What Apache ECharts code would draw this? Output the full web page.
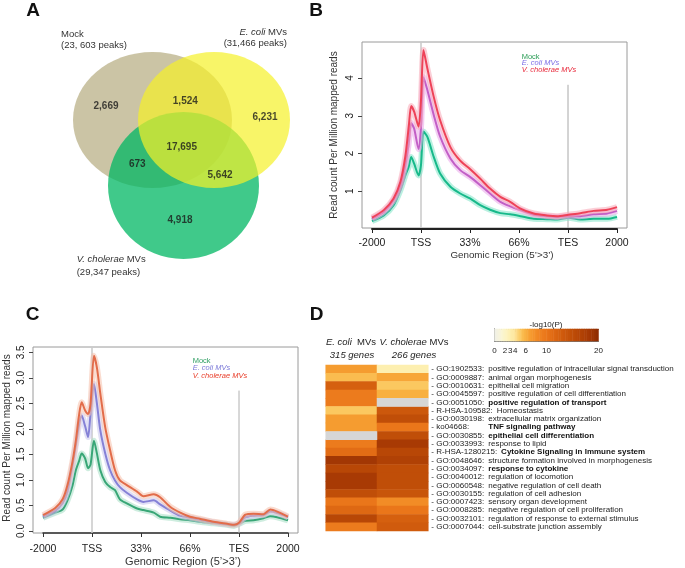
<!DOCTYPE html>
<html><head><meta charset="utf-8">
<script src="https://cdn.jsdelivr.net/npm/echarts@6/dist/echarts.min.js"></script>
<style>html,body{margin:0;padding:0;background:#fff}#c{width:685px;height:568px}</style>
</head><body><div id="c"></div>
<script>
// ---------- Panel A : Venn ----------
const vennOrder = ['Mock', 'V. cholerae MVs', 'E. coli MVs'];
const vennCx = [11.25, 14.35, 17.4];
const vennCy = [10.0, 16.55, 10.0];
const vennRx = [7.95, 7.55, 7.6];
const vennRy = [6.8, 7.35, 6.8];
const vennCounts = [2669, 1524, 6231, 17695, 673, 5642, 4918];
const vennCountX = [6.6, 14.53, 22.5, 14.17, 9.73, 18.0, 14.0];
const vennCountY = [8.67, 8.17, 9.73, 12.73, 14.43, 15.5, 20.07];

// ---------- Panel B ----------
const xTickLabels = ['-2000', 'TSS', '33%', '66%', 'TES', '2000'];
const bX = [0, .24, .44, .58, .68, .75, .80, .86, .95, 1.0, 1.05, 1.13, 1.26, 1.39, 1.6, 1.8, 2.0, 2.21, 2.41, 2.62, 2.82, 3.03, 3.3, 3.57, 3.78, 4.01, 4.25, 4.52, 4.8, 5.0];
const bVch = [0.30, 0.50, 0.81, 1.25, 1.92, 2.71, 3.26, 3.11, 2.71, 3.42, 4.74, 4.25, 3.5, 2.88, 2.17, 1.81, 1.59, 1.33, 1.07, 0.85, 0.72, 0.54, 0.41, 0.36, 0.34, 0.38, 0.42, 0.48, 0.51, 0.58];
const bEco = [0.27, 0.45, 0.76, 1.16, 1.69, 2.27, 2.81, 2.66, 2.12, 2.70, 4.02, 3.68, 3.02, 2.45, 1.87, 1.56, 1.38, 1.16, 0.94, 0.72, 0.60, 0.50, 0.38, 0.34, 0.32, 0.34, 0.34, 0.39, 0.41, 0.48];
const bMock = [0.21, 0.36, 0.63, 1.03, 1.42, 1.65, 1.91, 1.73, 1.42, 1.70, 2.58, 2.44, 1.91, 1.47, 1.12, 0.94, 0.81, 0.63, 0.51, 0.42, 0.39, 0.34, 0.27, 0.26, 0.25, 0.30, 0.25, 0.27, 0.27, 0.32];
const bYTicks = [1, 2, 3, 4];
const bBoxY = [0.026, 4.954];
const bTssSpan = [0.03, 4.95];
const bTesSpan = [0.03, 3.82];

// ---------- Panel C ----------
const cX = [0, .25, .4, .5, .6, .67, .74, .79, .86, .92, .97, 1.04, 1.1, 1.17, 1.27, 1.37, 1.47, 1.57, 1.71, 1.92, 2.05, 2.26, 2.39, 2.6, 2.8, 3.0, 3.2, 3.48, 3.76, 3.9, 4.0, 4.13, 4.3, 4.5, 4.64, 4.78, 5.0];
const cVch = [0.31, 0.45, 0.62, 0.9, 1.35, 1.77, 2.3, 2.52, 2.36, 2.29, 2.49, 3.43, 3.2, 2.69, 2.03, 1.58, 1.19, 0.99, 0.9, 0.77, 0.68, 0.72, 0.66, 0.47, 0.36, 0.28, 0.24, 0.18, 0.14, 0.12, 0.16, 0.32, 0.34, 0.33, 0.42, 0.38, 0.28];
const cEco = [0.28, 0.4, 0.55, 0.78, 1.27, 1.68, 2.1, 2.26, 2.05, 1.84, 2.3, 2.88, 2.5, 1.97, 1.52, 1.19, 0.99, 0.86, 0.75, 0.62, 0.57, 0.6, 0.52, 0.4, 0.3, 0.26, 0.22, 0.17, 0.13, 0.12, 0.15, 0.27, 0.3, 0.31, 0.38, 0.35, 0.27];
const cMock = [0.26, 0.36, 0.42, 0.6, 0.88, 1.19, 1.38, 1.52, 1.42, 1.23, 1.3, 1.77, 1.52, 1.19, 0.96, 0.86, 0.8, 0.62, 0.54, 0.44, 0.41, 0.36, 0.28, 0.26, 0.23, 0.21, 0.18, 0.15, 0.12, 0.1, 0.14, 0.2, 0.21, 0.25, 0.29, 0.27, 0.21];
const cYTicks = [0, 0.5, 1, 1.5, 2, 2.5, 3, 3.5];
const cBoxY = [-0.039, 3.604];
const cTssSpan = [-0.04, 3.59];
const cTesSpan = [-0.04, 2.75];

// ---------- Panel D ----------
const hmColumns = ['E. coli MVs', 'V. cholerae MVs'];
const termIds = ['GO:1902533', 'GO:0009887', 'GO:0010631', 'GO:0045597', 'GO:0051050', 'R-HSA-109582', 'GO:0030198', 'ko04668', 'GO:0030855', 'GO:0033993', 'R-HSA-1280215', 'GO:0048646', 'GO:0034097', 'GO:0040012', 'GO:0060548', 'GO:0030155', 'GO:0007423', 'GO:0008285', 'GO:0032101', 'GO:0007044'];
const termNames = ['positive regulation of intracellular signal transduction', 'animal organ morphogenesis', 'epithelial cell migration', 'positive regulation of cell differentiation', 'positive regulation of transport', 'Homeostasis', 'extracellular matrix organization', 'TNF signaling pathway', 'epithelial cell differentiation', 'response to lipid', 'Cytokine Signaling in Immune system', 'structure formation involved in morphogenesis', 'response to cytokine', 'regulation of locomotion', 'negative regulation of cell death', 'regulation of cell adhesion', 'sensory organ development', 'negative regulation of cell proliferation', 'regulation of response to external stimulus', 'cell-substrate junction assembly'];
const termBold = [0,0,0,0,1,0,0,1,1,0,1,0,1,0,0,0,0,0,0,0];
const ecoliVals = [7, 5.5, 12.5, 9.5, 9.5, 5, 7, 7, null, 9.5, 11, 18.5, 16, 18, 18, 15, 10, 11.5, 16, 9.5];
const vcholVals = [3, 6.5, 5, 6, null, 13.5, 15, 10, 15, 18, 16, 17, 15, 15, 15, 14, 8, 10, 12.5, 13];
const cbTicks = [0, 2, 3, 4, 6, 10, 20];
const cbInnerTicks = [2, 3, 4];

// ---------- styles ----------
const FONT = '"Liberation Sans", Arial, sans-serif';
const LBL = '"Liberation Sans Narrow", "Liberation Sans", sans-serif';
const LBLSIZE = 8;
const vennFill = ['rgb(203,196,165)', 'rgba(0,183,99,0.75)', 'rgba(245,241,40,0.7)'];
const heatColors = ['#efefe8','#f7f4dc','#fcf5c8','#fdefb0','#fde49a','#fbc860','#f8b040','#f59c30','#f28c26','#ee801f','#ea761a','#e26c15','#da6411','#d05b0d','#c8550a','#c04e08','#b84706','#b04105','#a83a04','#9c3403','#8c2c02'];

const chart = echarts.init(document.getElementById('c'), null, {renderer: 'canvas'});

const zip = (xs, ys) => xs.map((x, i) => [x, ys[i]]);
const hid = (gi, extra) => Object.assign({gridIndex: gi, show: false, type: 'value'}, extra || {});

const grids = [
  {left: 40, top: 20, width: 280, height: 260},                                  // 0 venn
  {left: 362, top: 42, width: 265, height: 186, show: true, borderColor: '#9a9a9a', borderWidth: 1}, // 1 B box
  {left: 372, top: 78, width: 245, height: 151},                                 // 2 B data
  {left: 33, top: 347, width: 265, height: 186, show: true, borderColor: '#9a9a9a', borderWidth: 1}, // 3 C box
  {left: 43, top: 352.3, width: 245, height: 178.7},                             // 4 C data
  {left: 325.7, top: 365, width: 102.6, height: 166},                            // 5 heatmap
  {left: 494.5, top: 329, width: 104, height: 12}                                 // 6 colorbar
];

const tickLbl = {color: '#222', fontFamily: FONT};

const xAxes = [
  hid(0, {min: 0, max: 28}),
  hid(1, {min: 0, max: 1}),
  {gridIndex: 2, type: 'value', min: 0, max: 5, interval: 1, position: 'bottom',
   axisLine: {show: true, onZero: false, lineStyle: {color: '#222', width: 2}},
   axisTick: {show: true, length: 4, lineStyle: {color: '#222'}},
   axisLabel: Object.assign({fontSize: 10.5, margin: 9, formatter: v => xTickLabels[v]}, tickLbl),
   splitLine: {show: false}},
  hid(3, {min: 0, max: 1}),
  {gridIndex: 4, type: 'value', min: 0, max: 5, interval: 1, position: 'bottom', offset: 2,
   axisLine: {show: true, onZero: false, lineStyle: {color: '#333', width: 1.5}},
   axisTick: {show: true, length: 4, lineStyle: {color: '#333'}},
   axisLabel: Object.assign({fontSize: 10.5, margin: 11, formatter: v => xTickLabels[v]}, tickLbl),
   splitLine: {show: false}},
  {gridIndex: 5, type: 'category', data: hmColumns, show: false},
  {gridIndex: 6, type: 'category', data: [], show: false},
  {gridIndex: 6, type: 'value', min: 0, max: 20, position: 'bottom',
   axisLine: {show: true, onZero: false, lineStyle: {color: '#777'}},
   axisTick: {show: false},
   axisLabel: Object.assign({fontSize: 8, margin: 6, customValues: cbTicks}, tickLbl),
   splitLine: {show: false}},
  {gridIndex: 6, type: 'value', min: 0, max: 20, position: 'top',
   axisLine: {show: true, onZero: false, lineStyle: {color: '#777'}},
   axisTick: {show: true, inside: true, length: 3, customValues: cbInnerTicks, lineStyle: {color: '#222'}},
   axisLabel: {show: false}, splitLine: {show: false}}
];

const cbN = 60;
const cbCats = [];
const cbData = [];
for (let i = 0; i < cbN; i++) { cbCats.push(String(i)); cbData.push([i, 0, (i + 0.5) * 20 / cbN]); }
xAxes[6].data = cbCats;

const yAxes = [
  hid(0, {min: 0, max: 26, inverse: true}),
  {gridIndex: 1, type: 'value', min: bBoxY[0], max: bBoxY[1],
   axisLine: {show: false}, splitLine: {show: false},
   axisTick: {show: true, length: 4, customValues: bYTicks, lineStyle: {color: '#444'}},
   axisLabel: Object.assign({fontSize: 10, rotate: 90, margin: 7, customValues: bYTicks}, tickLbl)},
  hid(2, {min: 0, max: 4}),
  {gridIndex: 3, type: 'value', min: cBoxY[0], max: cBoxY[1],
   axisLine: {show: false}, splitLine: {show: false},
   axisTick: {show: true, length: 4, customValues: cYTicks, lineStyle: {color: '#444'}},
   axisLabel: Object.assign({fontSize: 10, rotate: 90, margin: 7, customValues: cYTicks, formatter: v => (+v).toFixed(1)}, tickLbl)},
  hid(4, {min: 0, max: 3.5}),
  {gridIndex: 5, type: 'category', data: termIds, inverse: true, position: 'right',
   axisLine: {show: false}, axisTick: {show: false}, splitLine: {show: false},
   axisLabel: {interval: 0, margin: 3, color: '#222', fontSize: LBLSIZE, fontFamily: LBL,
     formatter: (v, i) => {
       const idS = termIds[i].indexOf('R-HSA') === 0 ? 'r' : 'i';
       const dS = termBold[i] ? 'b' : 'd';
       return '{' + idS + '|- ' + termIds[i] + ':}{' + dS + '|' + termNames[i] + '}';
     },
     rich: {
       i: {width: 57, fontSize: LBLSIZE, fontFamily: LBL, color: '#222'},
       r: {padding: [0, 4, 0, 0], fontSize: LBLSIZE, fontFamily: LBL, color: '#222'},
       d: {fontSize: LBLSIZE, fontFamily: LBL, color: '#222'},
       b: {fontSize: LBLSIZE, fontFamily: LBL, color: '#111', fontWeight: 'bold'}
     }}},
  {gridIndex: 6, type: 'category', data: ['cb'], axisLine: {show: true, lineStyle: {color: '#777'}}, axisTick: {show: false}, axisLabel: {show: false}},
  {gridIndex: 6, type: 'category', data: ['cb'], position: 'right', axisLine: {show: true, lineStyle: {color: '#777'}}, axisTick: {show: false}, axisLabel: {show: false}}
];

function lineSeries(xi, yi, xs, ys, color, band, z) {
  const d = zip(xs, ys);
  return [
    {type: 'line', xAxisIndex: xi, yAxisIndex: yi, data: d, symbol: 'none', smooth: 0.25, clip: false, silent: true,
     lineStyle: {color: band, width: 6, opacity: 0.55}, z: z},
    {type: 'line', xAxisIndex: xi, yAxisIndex: yi, data: d, symbol: 'none', smooth: 0.25, clip: false, silent: true,
     lineStyle: {color: color, width: 2}, z: z + 1}
  ];
}
function vline(xi, yi, x, span, color, w) {
  return {type: 'line', xAxisIndex: xi, yAxisIndex: yi, data: [[x, span[0]], [x, span[1]]], symbol: 'none', clip: false, silent: true,
    lineStyle: {color: color, width: w}, z: 1};
}

const series = [];
series.push({
  type: 'custom', xAxisIndex: 0, yAxisIndex: 0, silent: true,
  data: vennOrder.map((n, i) => [vennCx[i], vennCy[i], vennRx[i], vennRy[i]]),
  renderItem: (params, api) => {
    const c = api.coord([api.value(0), api.value(1)]);
    const s = api.size([api.value(2), api.value(3)]);
    return {type: 'ellipse', shape: {cx: c[0], cy: c[1], rx: s[0], ry: s[1]}, style: {fill: vennFill[params.dataIndex]}};
  }
});
series.push({
  type: 'scatter', xAxisIndex: 0, yAxisIndex: 0, silent: true, symbolSize: 1, itemStyle: {color: 'rgba(0,0,0,0)'},
  data: vennCounts.map((v, i) => [vennCountX[i], vennCountY[i], v]),
  label: {show: true, position: 'inside', formatter: p => p.value[2].toLocaleString('en-US'),
    fontSize: 10, fontWeight: 'bold', color: '#1a1a1a', fontFamily: FONT}, z: 5
});
series.push(vline(2, 2, 1, bTssSpan, '#c8c8c8', 1.5));
series.push(vline(2, 2, 4, bTesSpan, '#a8a8a8', 1));
series.push(...lineSeries(2, 2, bX, bMock, '#17b98a', '#7fe3c6', 3));
series.push(...lineSeries(2, 2, bX, bEco, '#c25ec6', '#eaa6ea', 5));
series.push(...lineSeries(2, 2, bX, bVch, '#ee4258', '#f8a8b6', 7));
series.push(vline(4, 4, 1, cTssSpan, '#c8c8c8', 1.5));
series.push(vline(4, 4, 4, cTesSpan, '#b0b0b0', 1));
series.push(...lineSeries(4, 4, cX, cMock, '#38a676', '#a6dec4', 3));
series.push(...lineSeries(4, 4, cX, cEco, '#8581d6', '#c9c7ef', 5));
series.push(...lineSeries(4, 4, cX, cVch, '#e26c4a', '#f5c0aa', 7));
const heatData = [], naData = [];
[ecoliVals, vcholVals].forEach((arr, c) => arr.forEach((v, r) => {
  if (v === null) naData.push([c, r, 0]); else heatData.push([c, r, v]);
}));
const hIdx = series.length;
series.push({type: 'heatmap', xAxisIndex: 5, yAxisIndex: 5, data: heatData, silent: true});
const naIdx = series.length;
series.push({type: 'heatmap', xAxisIndex: 5, yAxisIndex: 5, data: naData, silent: true});
const cbIdx = series.length;
series.push({type: 'heatmap', xAxisIndex: 6, yAxisIndex: 6, data: cbData, silent: true});

function txt(text, x, y, o) {
  o = o || {};
  return {type: 'text', x: x, y: y, rotation: o.rot || 0, silent: true, z: 100,
    style: {text: text, fontSize: o.size || 10, fontFamily: o.font || FONT, fontWeight: o.weight || 'normal',
      fontStyle: o.style || 'normal', fill: o.color || '#333', align: o.align || 'left', verticalAlign: 'middle',
      rich: o.rich || {}}};
}
const itRich = (size, color) => ({i: {fontStyle: 'italic', fontSize: size, fontFamily: FONT, fill: color, color: color}});

const graphics = [
  txt('A', 33, 11, {size: 19, weight: 'bold', align: 'center', color: '#111'}),
  txt('B', 316, 11, {size: 19, weight: 'bold', align: 'center', color: '#111'}),
  txt('C', 32.5, 315, {size: 19, weight: 'bold', align: 'center', color: '#111'}),
  txt('D', 316.5, 315, {size: 19, weight: 'bold', align: 'center', color: '#111'}),
  txt('Mock', 61, 34.3, {size: 9.5}),
  txt('(23, 603 peaks)', 61, 45.7, {size: 9.5}),
  txt('{i|E. coli} MVs', 287, 32.3, {size: 9.5, align: 'right', rich: itRich(9.5, '#333')}),
  txt('(31,466 peaks)', 287, 43.7, {size: 9.5, align: 'right'}),
  txt('{i|V. cholerae} MVs', 76.7, 259.3, {size: 9.5, rich: itRich(9.5, '#333')}),
  txt('(29,347 peaks)', 76.7, 272.7, {size: 9.5}),
  txt('Read count Per Million mapped reads', 334, 135, {size: 10, rot: Math.PI / 2, align: 'center'}),
  txt('Genomic Region (5\u2019>3\u2019)', 502, 255, {size: 9.8, align: 'center'}),
  txt('Mock', 521.7, 56.7, {size: 7.5, color: '#2a9d55'}),
  txt('E. coli MVs', 521.7, 63.3, {size: 7.5, color: '#7c6ee6', style: 'italic'}),
  txt('V. cholerae MVs', 521.7, 70, {size: 7.5, color: '#e8283a', style: 'italic'}),
  txt('Read count Per Million mapped reads', 7, 438, {size: 10, rot: Math.PI / 2, align: 'center'}),
  txt('Genomic Region (5\u2019>3\u2019)', 183, 562, {size: 11, align: 'center'}),
  txt('Mock', 192.7, 361, {size: 7.5, color: '#2e9e62'}),
  txt('E. coli MVs', 192.7, 368.4, {size: 7.5, color: '#7a78d8', style: 'italic'}),
  txt('V. cholerae MVs', 192.7, 375.7, {size: 7.5, color: '#e83c28', style: 'italic'}),
  txt('{i|E. coli}  MVs', 351, 342.7, {size: 9.5, align: 'center', color: '#222', rich: itRich(9.5, '#222')}),
  txt('{i|V. cholerae} MVs', 414, 342.7, {size: 9.5, align: 'center', color: '#222', rich: itRich(9.5, '#222')}),
  txt('315 genes', 352, 355, {size: 9.5, align: 'center', style: 'italic', color: '#222'}),
  txt('266 genes', 414, 355, {size: 9.5, align: 'center', style: 'italic', color: '#222'}),
  txt('-log10(P)', 546, 324.5, {size: 8, align: 'center', color: '#222'})
];

chart.setOption({
  animation: false,
  backgroundColor: '#fff',
  grid: grids,
  xAxis: xAxes,
  yAxis: yAxes,
  visualMap: [
    {type: 'continuous', show: false, min: 0, max: 20, dimension: 2, seriesIndex: [hIdx, cbIdx], inRange: {color: heatColors}},
    {type: 'continuous', show: false, min: 0, max: 1, dimension: 2, seriesIndex: [naIdx], inRange: {color: ['#d6d6d6', '#d6d6d6']}}
  ],
  series: series,
  graphic: graphics
});
</script></body></html>
